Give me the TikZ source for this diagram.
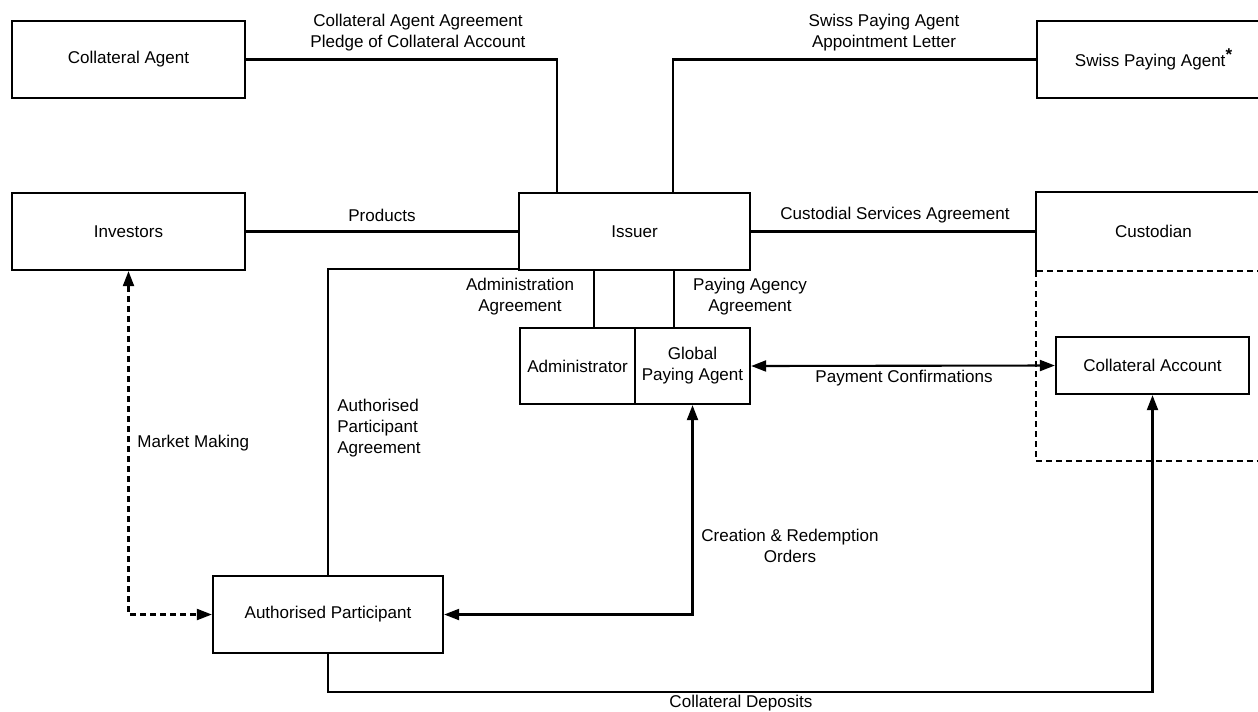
\documentclass[tikz,border=0pt]{standalone}
\usepackage{fontspec}
\setmainfont{Liberation Sans}
\usetikzlibrary{arrows.meta,calc}
\begin{document}
\begin{tikzpicture}[x=0.02cm,y=-0.02cm,
  every node/.style={font=\fontsize{9.7pt}{11.9pt}\selectfont, inner sep=0pt},
  bx/.style 2 args={draw, line width=1.3pt, minimum width=#1*0.02cm, minimum height=#2*0.02cm, align=center},
  conn/.style={line width=1.2pt},
  tip/.style={-{Triangle[length=0.3cm,width=0.22cm]}},
  tips/.style={{Triangle[length=0.3cm,width=0.22cm]}-{Triangle[length=0.3cm,width=0.22cm]}},
  dsh/.style={dash pattern=on 3.4pt off 2.3pt},
  lbl/.style={align=center}]
\useasboundingbox (0,0) rectangle (1258,711);
\clip (0,0) rectangle (1258,711);
\fill[white] (0,0) rectangle (1258,711);

% boxes
\node[bx={233}{77}] (ca) at (128.5,59.5) {Collateral Agent};
\node[bx={233}{77}] (spa) at (1153.5,59.5) {Swiss Paying Agent\raisebox{0.75ex}{\textbf{*}}};
\node[bx={233}{77}] (inv) at (128.5,231.5) {Investors};
\node[bx={231}{77}] (iss) at (634.5,231.5) {Issuer};
\node[bx={233}{77}, draw=none] (cus) at (1153.5,231.5) {Custodian};
\node[bx={115}{76}] (adm) at (577.5,366) {Administrator};
\node[bx={115}{76}] (gpa) at (692.5,366) {Global\\Paying Agent};
\node[bx={193}{57}] (cacc) at (1152.5,365.5) {Collateral Account};
\node[bx={230}{77}] (ap) at (328,614.5) {Authorised Participant};

% custodian outline (bottom formed by dashed region)
\draw[line width=1.3pt] (cus.south west) -- (cus.north west) -- (cus.north east) -- (cus.south east);
\coordinate (dcorner) at (1270,461);
\draw[conn, dsh] (cus.south west) rectangle (dcorner);

% helper coordinates
\coordinate (k1) at (557,0);
\coordinate (k2) at (673,0);
\coordinate (k4) at (594,0);
\coordinate (k5) at (674,0);
\coordinate (k6) at (0,692);
\coordinate (apstart) at ($(iss.south west)+(0,-2)$);

% connectors
\draw[conn] (ca.east) -| (k1 |- iss.north);
\draw[conn] (spa.west) -| (k2 |- iss.north);
\draw[conn] (inv.east) -- (iss.west);
\draw[conn] (iss.east) -- (cus.west);
\draw[conn] (apstart) -| (ap.north);
\draw[conn] (iss.south -| k4) -- (adm.north -| k4);
\draw[conn] (iss.south -| k5) -- (gpa.north -| k5);
\draw[conn, tips] (gpa.east) -- (cacc.west);
\draw[conn, tips] (ap.east) -| (gpa.south);
\draw[conn, tips, dsh] (inv.south) |- (ap.west);
\draw[conn, tip] (ap.south) -- (ap.south |- k6) -| (cacc.south);

% labels
\node[lbl] (l1) at (418,33) {Collateral Agent Agreement\\Pledge of Collateral Account};
\node[lbl] (l2) at (884,33) {Swiss Paying Agent\\Appointment Letter};
\node[lbl] (l3) at (382,215) {Products};
\node[lbl] (l4) at (895,215) {Custodial Services Agreement};
\node[lbl] (l5) at (520,297) {Administration\\Agreement};
\node[lbl] (l6) at (750,297) {Paying Agency\\Agreement};
\node[lbl] (l7) at (904,378) {Payment Confirmations};
\node[align=left, anchor=west] (l8) at (337,428) {Authorised\\Participant\\Agreement};
\node[anchor=west] (l9) at (137,443) {Market Making};
\node[lbl] (l10) at (790,546) {Creation \& Redemption\\Orders};
\node[lbl] (l11) at (741,703) {Collateral Deposits};
\end{tikzpicture}
\end{document}
